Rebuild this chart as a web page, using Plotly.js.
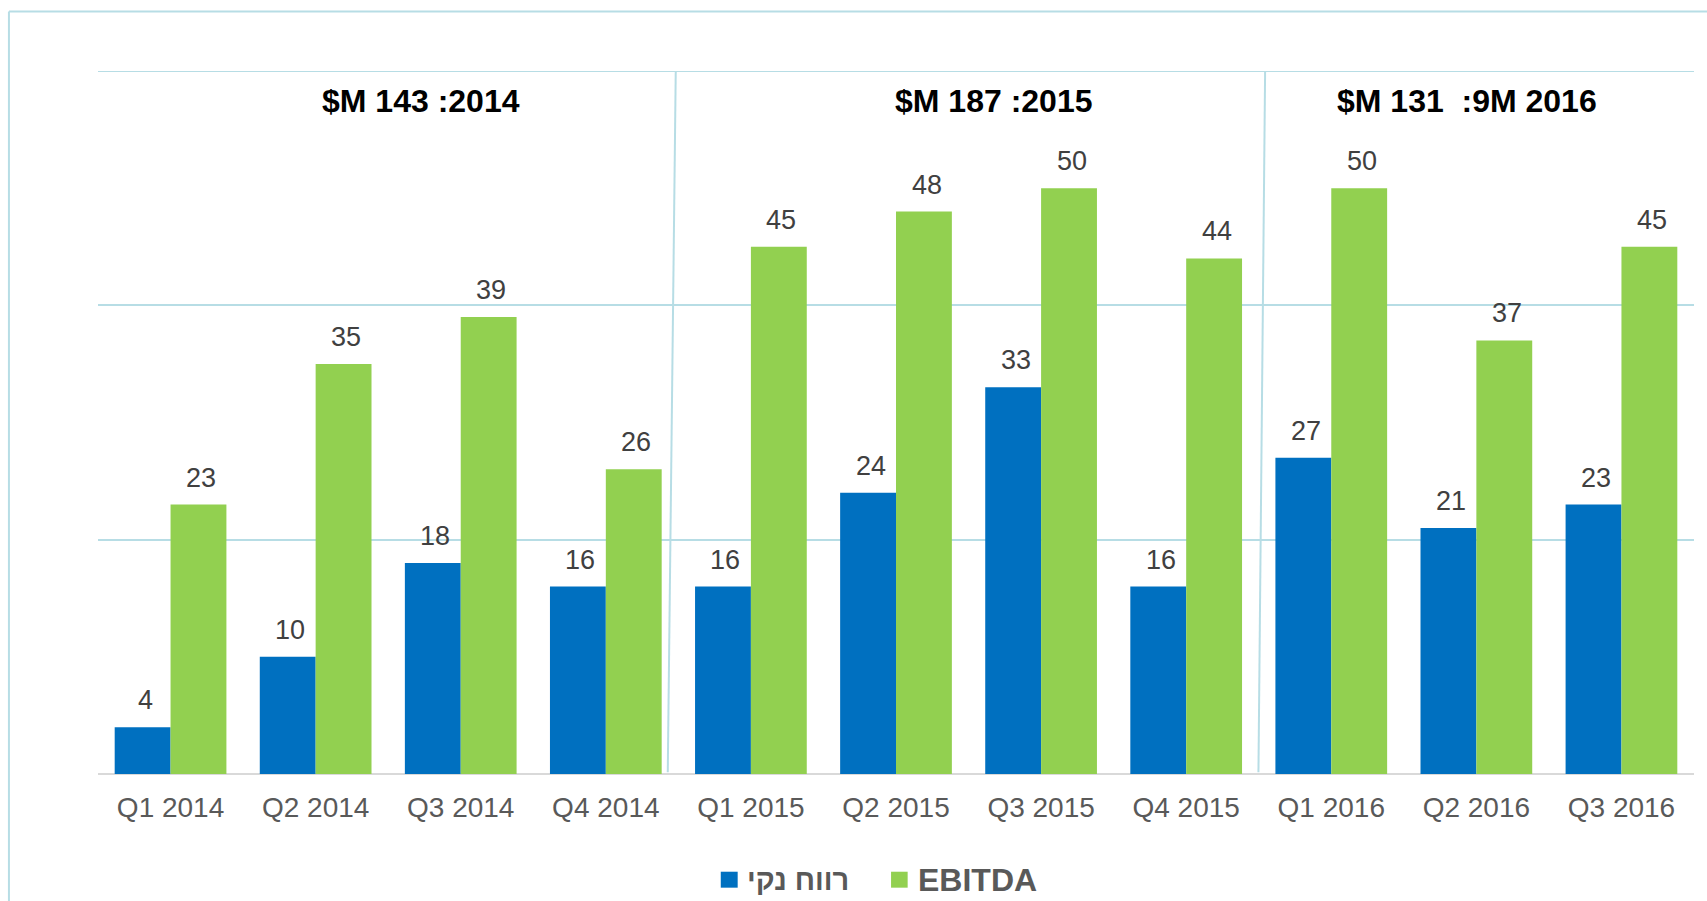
<!DOCTYPE html>
<html>
<head>
<meta charset="utf-8">
<script src="https://cdn.plot.ly/plotly-3.0.1.min.js"></script>
<style>
  html, body { margin: 0; padding: 0; background: #ffffff; }
  #chart { width: 1707px; height: 901px; }
</style>
</head>
<body>
<div id="chart"></div>
<script>
// ---- data ----
const quarters = ["Q1 2014", "Q2 2014", "Q3 2014", "Q4 2014",
                  "Q1 2015", "Q2 2015", "Q3 2015", "Q4 2015",
                  "Q1 2016", "Q2 2016", "Q3 2016"];
const netProfit = [4, 10, 18, 16, 16, 24, 33, 16, 27, 21, 23];
const ebitda    = [23, 35, 39, 26, 45, 48, 50, 44, 50, 37, 45];
const seriesNames = ["רווח נקי", "EBITDA"];
const periodTitles = ["$M 143 :2014", "$M 187 :2015", "$M 131 \u00A0:9M 2016"];

// ---- styles ----
const FONT = "Liberation Sans, Arial, sans-serif";
const BLUE = "#0070C0";
const GREEN = "#92D050";
const GRID = "#B7DDE5";
const colors = [BLUE, GREEN];

const traces = [
  { type: "bar", name: seriesNames[0], x: quarters, y: netProfit,
    marker: { color: BLUE }, showlegend: false },
  { type: "bar", name: seriesNames[1], x: quarters, y: ebitda,
    marker: { color: GREEN }, showlegend: false }
];

// value labels above bars
const annotations = [];
const seriesVals = [netProfit, ebitda];
seriesVals.forEach((vals, s) => {
  vals.forEach((v, i) => {
    annotations.push({
      x: quarters[i], y: v, xref: "x", yref: "y",
      text: String(v), showarrow: false,
      xshift: (s === 0 ? -28 : 28) + 2.5, yshift: 27,
      yanchor: "middle", xanchor: "center",
      font: { family: FONT, size: 27, color: "#404040" }
    });
  });
});

// period headers
const titleX = [0.2024, 0.5614, 0.8578];
periodTitles.forEach((t, k) => {
  annotations.push({
    x: titleX[k], y: 0.958, xref: "paper", yref: "paper",
    text: "<b>" + t + "</b>", showarrow: false,
    xanchor: "center", yanchor: "middle",
    font: { family: FONT, size: 32, color: "#000000" }
  });
});

// legend (drawn manually: square + label)
const legSquareX = [[0.3902, 0.4008], [0.4969, 0.5073]];
const legTextX = [0.4054, 0.5125];
const legTextSize = [29, 32];
const legY = -0.1508;
seriesNames.forEach((n, s) => {
  annotations.push({
    x: legTextX[s], y: legY, xref: "paper", yref: "paper",
    text: "<b>" + n + "</b>", showarrow: false,
    xanchor: "left", yanchor: "middle",
    font: { family: FONT, size: legTextSize[s], color: "#595959" }
  });
});

const shapes = [
  // top gridline at 60
  { type: "line", xref: "paper", yref: "y", x0: 0, x1: 1, y0: 60, y1: 60,
    line: { color: GRID, width: 2 }, layer: "below" },
  // period separators
  { type: "line", xref: "x", yref: "y", x0: 3.482, y0: 60, x1: 3.427, y1: 0.15,
    line: { color: GRID, width: 2 } },
  { type: "line", xref: "x", yref: "y", x0: 7.544, y0: 60, x1: 7.498, y1: 0.15,
    line: { color: GRID, width: 2 } },
  // outer frame (top and left)
  { type: "line", xref: "paper", yref: "paper", x0: -0.0558, y0: 1.0848, x1: 1.01, y1: 1.0848,
    line: { color: GRID, width: 2 } },
  { type: "line", xref: "paper", yref: "paper", x0: -0.0558, y0: 1.0848, x1: -0.0558, y1: -0.2,
    line: { color: GRID, width: 2 } }
];
legSquareX.forEach((xx, s) => {
  shapes.push({ type: "rect", xref: "paper", yref: "paper",
    x0: xx[0], x1: xx[1], y0: -0.1617, y1: -0.139,
    fillcolor: colors[s], line: { width: 0 } });
});

const layout = {
  width: 1707, height: 901,
  margin: { l: 98, r: 13, t: 71, b: 127, pad: 0, autoexpand: false },
  paper_bgcolor: "#ffffff", plot_bgcolor: "#ffffff",
  barmode: "group", bargap: 0.23, bargroupgap: 0,
  showlegend: false,
  xaxis: {
    type: "category", range: [-0.5, 10.5],
    showgrid: false, zeroline: false, showline: false,
    ticks: "", ticklabelstandoff: 14,
    tickfont: { family: FONT, size: 28, color: "#595959" },
    fixedrange: true, automargin: false
  },
  yaxis: {
    range: [0, 60], tick0: 0, dtick: 20,
    showgrid: true, gridcolor: GRID, gridwidth: 2,
    zeroline: true, zerolinecolor: "#D9D9D9", zerolinewidth: 2,
    showticklabels: false, showline: false, ticks: "",
    fixedrange: true, automargin: false
  },
  annotations: annotations,
  shapes: shapes,
  font: { family: FONT }
};

Plotly.newPlot("chart", traces, layout, { displayModeBar: false, staticPlot: true });
</script>
</body>
</html>
